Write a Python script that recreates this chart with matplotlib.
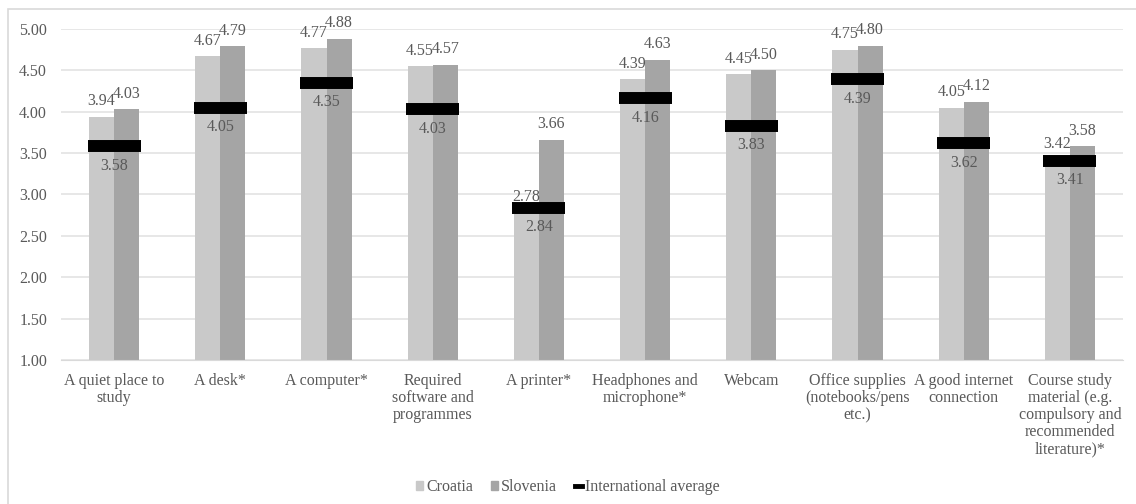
import matplotlib.pyplot as plt
import numpy as np
from matplotlib.patches import Rectangle
from matplotlib.lines import Line2D
from matplotlib.patches import Patch

categories = [
    "A quiet place to\nstudy",
    "A desk*",
    "A computer*",
    "Required\nsoftware and\nprogrammes",
    "A printer*",
    "Headphones and\nmicrophone*",
    "Webcam",
    "Office supplies\n(notebooks/pens\netc.)",
    "A good internet\nconnection",
    "Course study\nmaterial (e.g.\ncompulsory and\nrecommended\nliterature)*",
]
croatia = [3.94, 4.67, 4.77, 4.55, 2.78, 4.39, 4.45, 4.75, 4.05, 3.42]
slovenia = [4.03, 4.79, 4.88, 4.57, 3.66, 4.63, 4.50, 4.80, 4.12, 3.58]
intl_avg = [3.58, 4.05, 4.35, 4.03, 2.84, 4.16, 3.83, 4.39, 3.62, 3.41]

plt.rcParams['font.family'] = ['Liberation Serif', 'DejaVu Serif']
txt = '#595959'
fs = 11.5

fig = plt.figure(figsize=(11.36, 5.04), dpi=100)
ax = fig.add_axes([0.0537, 0.2857, 0.9349, 0.6568])

# outer chart border (only left and top visible)
fig.patches.append(Rectangle((8 / 1136, -0.1), 1.2, (504 - 9) / 504 + 0.1,
                             transform=fig.transFigure, fill=False,
                             edgecolor='#d9d9d9', linewidth=1.2))

x = np.arange(len(categories))
w = 0.236
ax.bar(x - w / 2, [c - 1 for c in croatia], w, bottom=1, color='#c9c9c9', zorder=2)
ax.bar(x + w / 2, [s - 1 for s in slovenia], w, bottom=1, color='#a5a5a5', zorder=2)
ax.hlines(intl_avg, x - 0.25, x + 0.25, color='black', linewidth=8.6, zorder=3)

for i in range(len(x)):
    ax.text(x[i] - w / 2, croatia[i] + 0.09, f"{croatia[i]:.2f}", ha='center', va='bottom',
            fontsize=fs, color=txt)
    ax.text(x[i] + w / 2, slovenia[i] + 0.09, f"{slovenia[i]:.2f}", ha='center', va='bottom',
            fontsize=fs, color=txt)
    ax.text(x[i], intl_avg[i] - 0.14, f"{intl_avg[i]:.2f}", ha='center', va='top',
            fontsize=fs, color=txt, zorder=4)

ax.set_xlim(-0.5, len(categories) - 0.5)
ax.set_ylim(1, 5)
ax.set_yticks(np.arange(1, 5.01, 0.5))
ax.set_yticklabels([f"{v:.2f}" for v in np.arange(1, 5.01, 0.5)])
ax.set_xticks(x)
ax.set_xticklabels(categories, va='top', ha='center', linespacing=1.1)
ax.tick_params(axis='both', length=0, labelsize=fs, labelcolor=txt)
ax.tick_params(axis='y', pad=10)
ax.tick_params(axis='x', pad=9)
ax.grid(axis='y', color='#e3e3e3', linewidth=1.2, zorder=0)
ax.set_axisbelow(True)
for s in ['top', 'right', 'left']:
    ax.spines[s].set_visible(False)
ax.spines['bottom'].set_color('#d9d9d9')

handles = [Patch(color='#c9c9c9', label='Croatia'),
           Patch(color='#a5a5a5', label='Slovenia'),
           Line2D([0], [0], color='black', linewidth=3.5, label='International average')]
fig.legend(handles=handles, loc='center', bbox_to_anchor=(0.5, 1 - 487 / 504), ncol=3,
           frameon=False, fontsize=fs, labelcolor=txt, handlelength=0.45, handleheight=0.45,
           handletextpad=0.2, columnspacing=1.1)

fig.savefig('out.png', dpi=100)
